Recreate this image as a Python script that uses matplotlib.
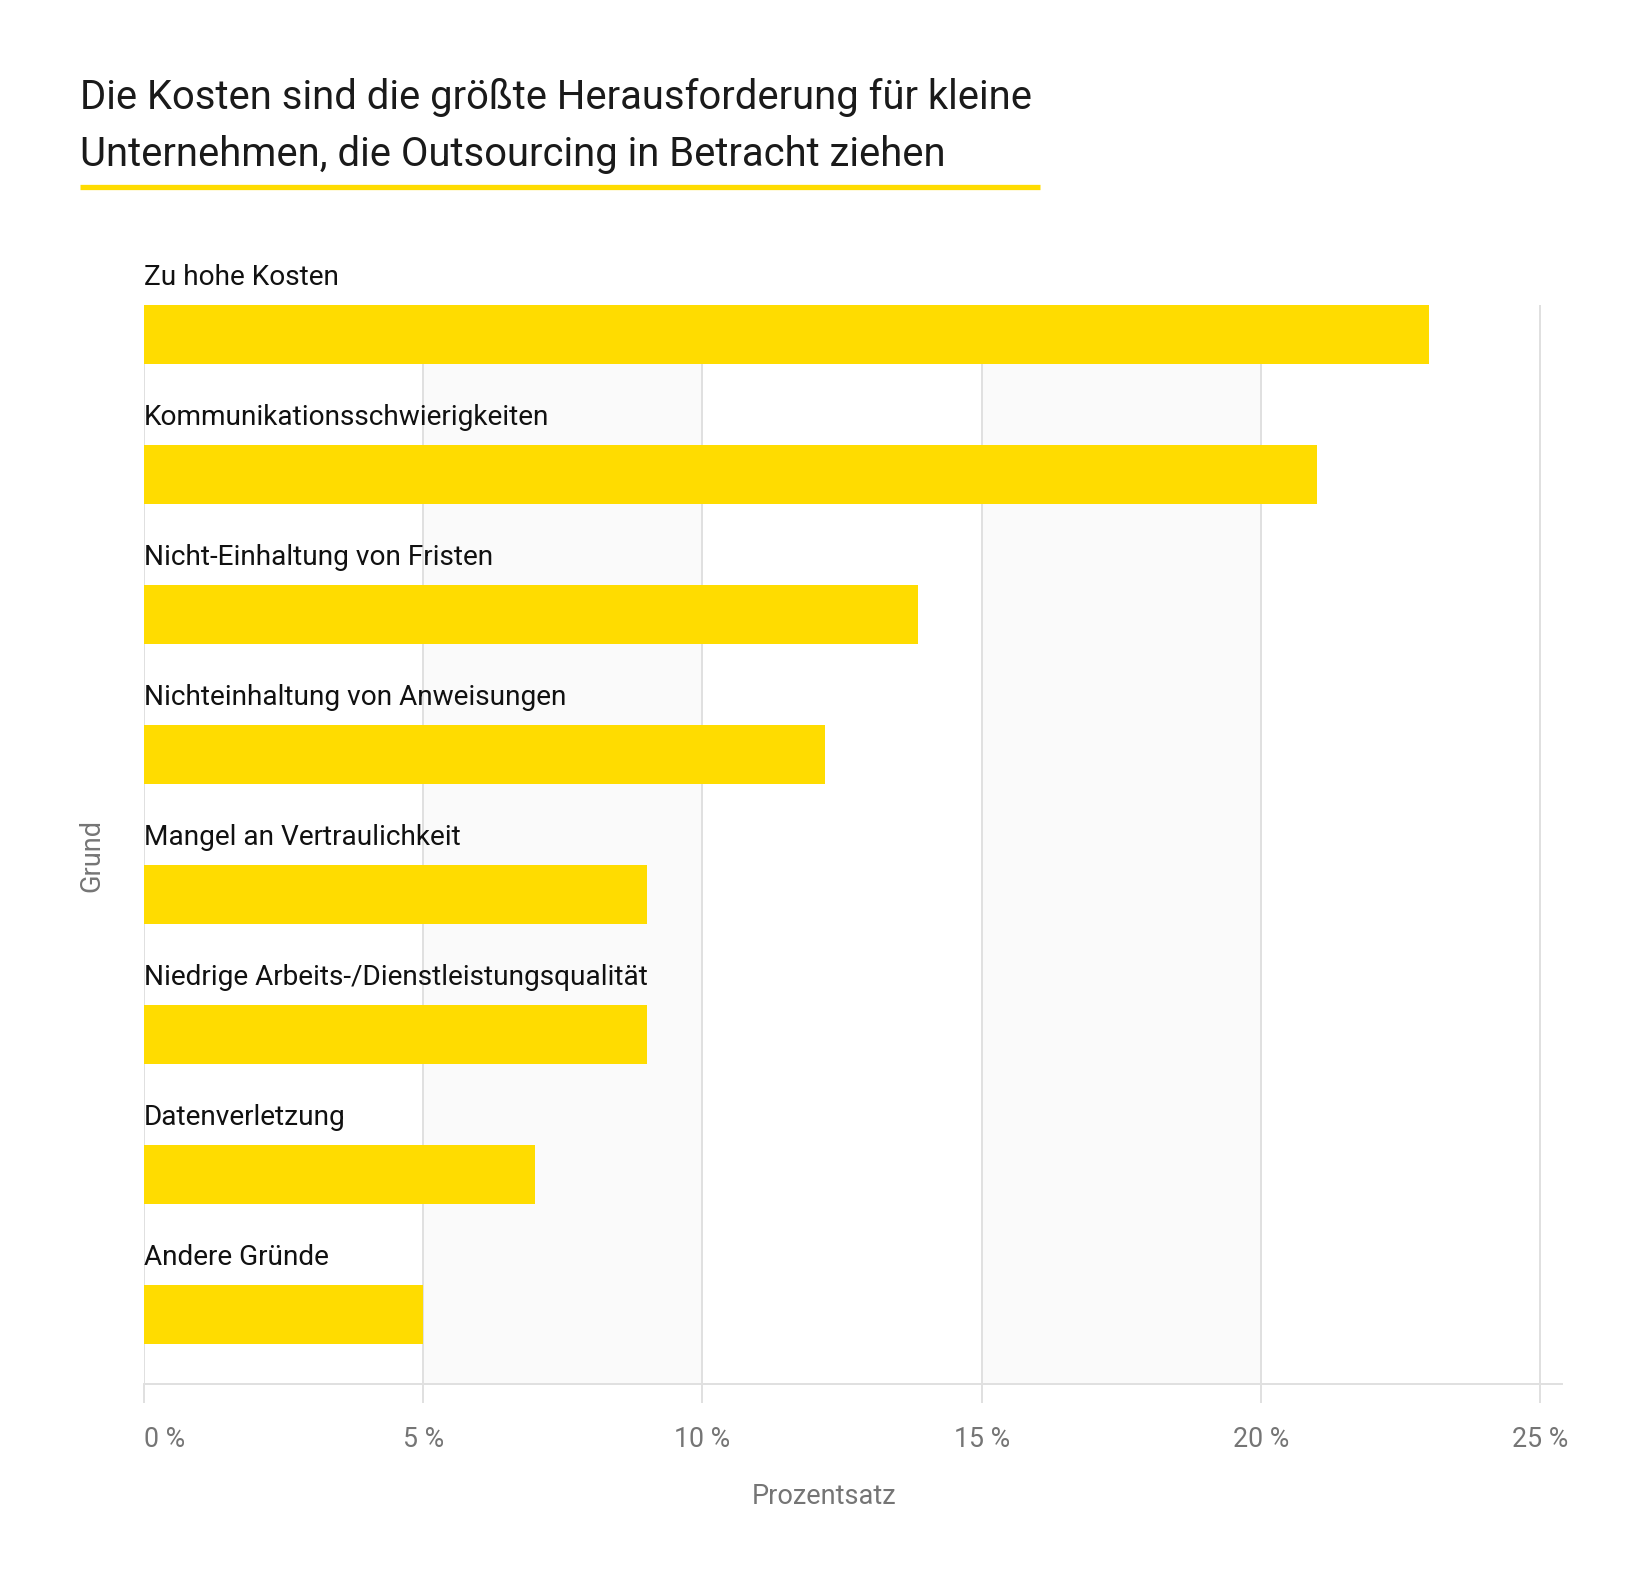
import numpy as np
import matplotlib as mpl
mpl.use('Agg')
import matplotlib.pyplot as plt
from matplotlib.lines import Line2D

plt.rcParams['font.family'] = ['Roboto', 'DejaVu Sans']

# data
reasons = ['Zu hohe Kosten', 'Kommunikationsschwierigkeiten', 'Nicht-Einhaltung von Fristen',
           'Nichteinhaltung von Anweisungen', 'Mangel an Vertraulichkeit',
           'Niedrige Arbeits-/Dienstleistungsqualität', 'Datenverletzung', 'Andere Gründe']
shares = [23.0, 21.0, 13.85, 12.2, 9.0, 9.0, 7.0, 5.0]
x_ticks = [0, 5, 10, 15, 20, 25]
x_tick_labels = ['0 %', '5 %', '10 %', '15 %', '20 %', '25 %']

title = 'Die Kosten sind die größte Herausforderung für kleine\nUnternehmen, die Outsourcing in Betracht ziehen'
x_label = 'Prozentsatz'
y_label = 'Grund'

# colors
yellow = '#FFDC00'
grid_col = '#E0E0E0'
band_col = '#FAFAFA'
grey_txt = '#757575'

W, H = 1648, 1585
fig = plt.figure(figsize=(W / 100, H / 100), dpi=100)
ax = fig.add_axes([144 / W, 1 - 1384 / H, (1562 - 144) / W, (1384 - 305) / H])

y = np.arange(len(reasons))
bar_h = 0.42

# alternating background bands
for lo in (5, 15):
    ax.axvspan(lo, lo + 5, color=band_col, zorder=0, lw=0)
for t in x_ticks:
    ax.axvline(t, color=grid_col, lw=1.4, zorder=1)

ax.barh(y, shares, height=bar_h, color=yellow, zorder=2)

for i, name in enumerate(reasons):
    ax.text(0, i - 0.405, name, va='center', ha='left', fontsize=20.2,
            color='#111111', clip_on=False)

ax.set_xlim(0, 25.39)
ax.set_ylim(len(reasons) - 1 + 0.496, -0.21)
ax.set_xticks(x_ticks, x_tick_labels)
ax.set_yticks([])
ax.tick_params(axis='x', length=14, width=1.4, color=grid_col, pad=16,
               labelsize=19.3, labelcolor=grey_txt)
ax.get_xticklabels()[0].set_horizontalalignment('left')
for s in ['top', 'right', 'left']:
    ax.spines[s].set_visible(False)
ax.spines['bottom'].set_color(grid_col)
ax.spines['bottom'].set_linewidth(1.4)
ax.set_facecolor('white')

# title and underline
fig.text(80 / W, 1 - 126 / H, title, fontsize=28.8, color='#1a1a1a',
         ha='left', va='center', linespacing=1.6)
fig.add_artist(Line2D([80 / W, 1040 / W], [1 - 187 / H, 1 - 187 / H],
                      color=yellow, lw=3.8, solid_capstyle='butt'))

# axis titles
fig.text(0.5, 1 - 1496 / H, x_label, fontsize=19.5, color=grey_txt,
         ha='center', va='center')
fig.text(92 / W, 1 - 855 / H, y_label, fontsize=19.5, color=grey_txt,
         ha='center', va='center', rotation=90)

fig.savefig('out.png', dpi=100)
